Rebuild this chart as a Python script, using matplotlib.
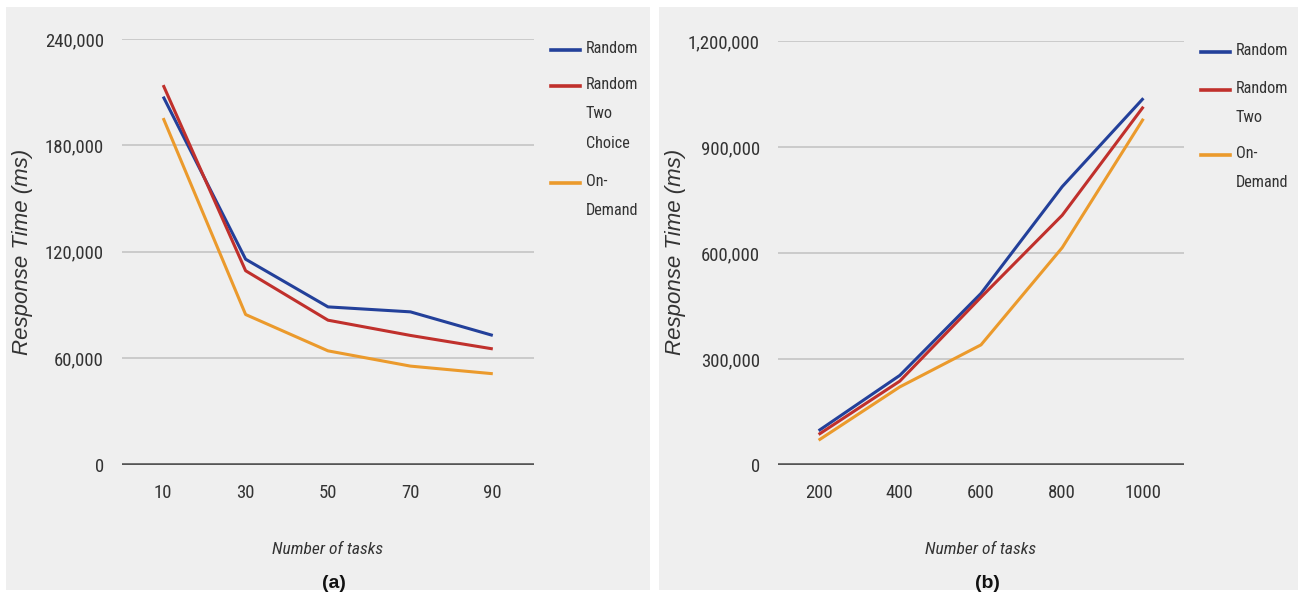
import matplotlib
matplotlib.use("Agg")
import matplotlib.pyplot as plt
from matplotlib import font_manager
from matplotlib.patches import Rectangle
from matplotlib.lines import Line2D
from matplotlib.ticker import FuncFormatter

# ---- data ----
tasks_a = ["10", "30", "50", "70", "90"]
random_a = [207500, 115800, 88900, 86100, 72800]
random_two_a = [214000, 109300, 81400, 72800, 65200]
on_demand_a = [195400, 84600, 64100, 55500, 51200]

tasks_b = ["200", "400", "600", "800", "1000"]
random_b = [97000, 253600, 485600, 787800, 1038000]
random_two_b = [86300, 237400, 474800, 706800, 1014000]
on_demand_b = [70100, 221000, 340000, 615100, 979900]

yticks_a = [0, 60000, 120000, 180000, 240000]
yticks_b = [0, 300000, 600000, 900000, 1200000]

labels_a = ["Random", "Random\nTwo\nChoice", "On-\nDemand"]
labels_b = ["Random", "Random\nTwo", "On-\nDemand"]

colors = ["#23409a", "#c0302c", "#eb9a2c"]

W, H = 1303, 598
fig = plt.figure(figsize=(W / 100, H / 100), dpi=100)
fig.patch.set_facecolor("white")

# pick the narrowest sans face available
installed = {f.name for f in font_manager.fontManager.ttflist}
narrow_name = None
for cand in ["Liberation Sans Narrow", "Arial Narrow", "Roboto Condensed",
             "Open Sans Condensed", "DejaVu Sans Condensed"]:
    if cand in installed:
        narrow_name = cand
        break
if narrow_name is None:
    NARROW = dict(family=["DejaVu Sans"], stretch="condensed")
    SCALE = 0.85
elif narrow_name in ("Liberation Sans Narrow", "Arial Narrow"):
    NARROW = dict(family=[narrow_name, "DejaVu Sans"])
    SCALE = 1.0
else:
    NARROW = dict(family=[narrow_name, "DejaVu Sans"], stretch="condensed")
    SCALE = 0.9

SANS = ["Liberation Sans", "Arimo", "DejaVu Sans"]
PANEL = "#efefef"
TXT = "#333333"


def fx(px):
    return px / W


def fy(py):
    return 1 - py / H


def narrow(size, **kw):
    return font_manager.FontProperties(size=size * SCALE, **NARROW, **kw)


# panel backgrounds
for x0, x1 in [(6, 650), (659, 1298)]:
    fig.add_artist(Rectangle((fx(x0), fy(590)), fx(x1 - x0), (590 - 7) / H,
                             transform=fig.transFigure, facecolor=PANEL,
                             edgecolor="none", zorder=0))


def panel(rect, cats, series, yticks, labels, leg_x, leg_rows, xlab_x,
          ylab_x, tag):
    ax = fig.add_axes(rect)
    ax.set_facecolor("none")
    xs = list(range(len(cats)))
    for vals, c in zip(series, colors):
        ax.plot(xs, vals, color=c, lw=2.2, solid_joinstyle="round",
                solid_capstyle="butt", zorder=3)
    ax.set_xlim(-0.5, len(cats) - 0.5)
    ax.set_ylim(yticks[0], yticks[-1])
    ax.set_xticks(xs)
    ax.set_xticklabels(cats)
    ax.set_yticks(yticks)
    ax.yaxis.set_major_formatter(FuncFormatter(lambda v, p: f"{int(v):,}"))
    for sp in ax.spines.values():
        sp.set_visible(False)
    ax.grid(axis="y", color="#c8c8c8", lw=1.3, zorder=1)
    ax.axhline(0, color="#555555", lw=2.6, zorder=2)
    ax.tick_params(length=0, labelcolor=TXT)
    ax.tick_params(axis="x", pad=14)
    ax.tick_params(axis="y", pad=13)
    for t in ax.get_xticklabels() + ax.get_yticklabels():
        t.set_fontproperties(narrow(15))
    # rotated axis title placed at a fixed spot in the panel
    fig.text(fx(ylab_x), fy(252), "Response Time (ms)", rotation=90,
             ha="center", va="center", fontsize=16, style="italic",
             family=SANS, color=TXT)
    fig.text(fx(xlab_x), fy(549), "Number of tasks", ha="center", va="center",
             fontproperties=narrow(14, style="italic"), color=TXT)
    fig.text(fx(xlab_x + 6), fy(583), tag, ha="center", va="center",
             fontsize=14, weight="bold", family=SANS, color="#111111")
    # legend keys and labels
    for lab, c, row in zip(labels, colors, leg_rows):
        fig.add_artist(Line2D([fx(leg_x), fx(leg_x + 29)], [fy(row), fy(row)],
                              transform=fig.transFigure, color=c, lw=2.6))
        fig.text(fx(leg_x + 35), fy(row - 9), lab, ha="left", va="top",
                 fontproperties=narrow(13), color=TXT, linespacing=2.2)
    return ax


panel([fx(122), fy(464.5), fx(534 - 122), (464.5 - 39) / H],
      tasks_a, [random_a, random_two_a, on_demand_a], yticks_a, labels_a,
      551, [50, 86, 183], 328, 23, "(a)")
panel([fx(778), fy(465), fx(1184 - 778), (465 - 41) / H],
      tasks_b, [random_b, random_two_b, on_demand_b], yticks_b, labels_b,
      1201, [52, 90, 155], 981, 676, "(b)")

fig.savefig("out.png", dpi=100, facecolor="white")
